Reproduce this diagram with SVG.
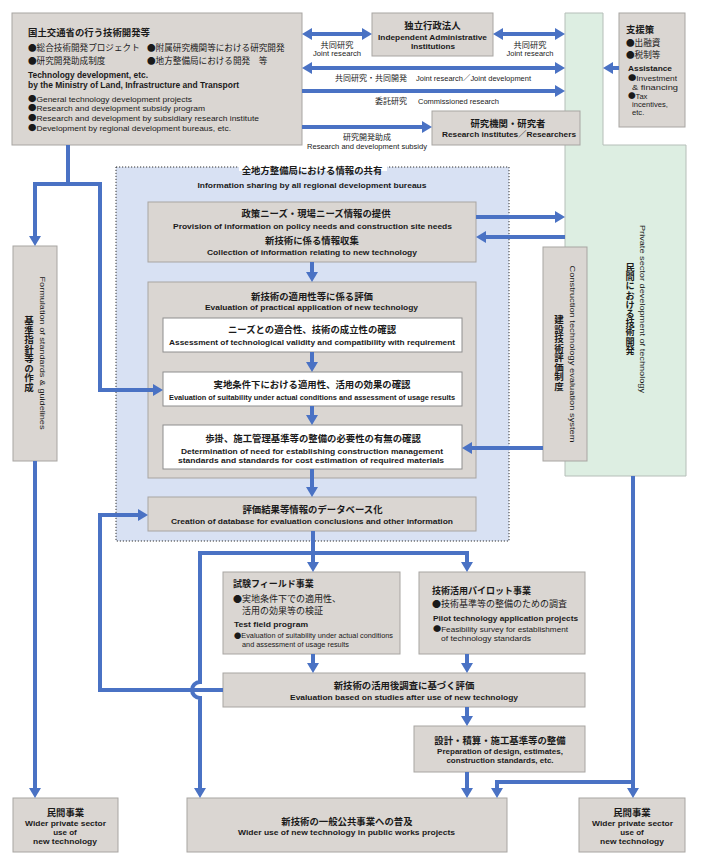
<svg xmlns="http://www.w3.org/2000/svg" width="701" height="868" viewBox="0 0 701 868">
<defs>
<marker id="ah" markerUnits="userSpaceOnUse" markerWidth="10" markerHeight="12" refX="0" refY="6" orient="auto-start-reverse" viewBox="0 0 10 12"><path d="M0,0L10,6L0,12z" fill="#4A72C4"/></marker>
<style>
.box{fill:#DAD6D2;stroke:#A8A5A2;stroke-width:1}
.wbox{fill:#fff;stroke:#8E8E8E;stroke-width:1}
.c{stroke:#4A72C4;stroke-width:4;fill:none}
.a{marker-end:url(#ah)}
.a2{marker-start:url(#ah);marker-end:url(#ah)}
text{fill:#1a1a1a}
.jt{font-family:"Noto Sans CJK JP",sans-serif;font-weight:bold;font-size:9.4px}
.jr{font-family:"Noto Sans CJK JP",sans-serif;font-size:8.6px}
.et{font-family:"Liberation Sans","Noto Sans CJK JP",sans-serif;font-weight:bold;font-size:8px}
.er{font-family:"Liberation Sans","Noto Sans CJK JP",sans-serif;font-size:7.6px}
.b{font-family:"Noto Sans CJK JP",sans-serif;font-weight:normal}
.m{text-anchor:middle}
.v{writing-mode:vertical-rl;text-orientation:upright}
</style>
</defs>
<rect width="701" height="868" fill="#fff"/>

<g id="sharing-region">
<rect x="116" y="167" width="393" height="374" fill="#D8E1F3" stroke="#333" stroke-width="1" stroke-dasharray="1.2,1.8"/>
<rect x="239" y="163" width="148" height="8" fill="#fff"/>
<text class="jt m" x="312" y="173.5">全地方整備局における情報の共有</text>
<text class="et m" x="312" y="187.5" textLength="229" lengthAdjust="spacingAndGlyphs">Information sharing by all regional development bureaus</text>
</g>

<g id="private-dev">
<path d="M565,13H603V145H686V476H565Z" fill="#DDEEE2" stroke="#B5BEB8" stroke-width="1"/>
<text class="jt m v" style="font-size:9.2px" x="630" y="309">民間における技術開発</text>
<text class="er m" style="font-size:8px" transform="translate(643,309) rotate(90)" dy="0.35em" textLength="168" lengthAdjust="spacingAndGlyphs">Private sector development of technology</text>
</g>

<g id="mlit">
<rect class="box" x="12" y="13" width="290" height="132"/>
<text class="jt" x="28" y="35.5">国土交通省の行う技術開発等</text>
<text class="jr" x="28" y="50.5">●総合技術開発プロジェクト</text>
<text class="jr" x="147" y="50.5">●附属研究機関等における研究開発</text>
<text class="jr" x="28" y="64">●研究開発助成制度</text>
<text class="jr" x="147" y="64">●地方整備局における開発　等</text>
<text class="et" style="font-size:8.3px" x="28" y="78" textLength="120" lengthAdjust="spacingAndGlyphs">Technology development, etc.</text>
<text class="et" style="font-size:8.3px" x="28" y="88" textLength="211" lengthAdjust="spacingAndGlyphs">by the Ministry of Land, Infrastructure and Transport</text>
<text class="er" style="font-size:8px" x="28" y="101.5" textLength="164" lengthAdjust="spacingAndGlyphs"><tspan class="b">●</tspan>General technology development projects</text>
<text class="er" style="font-size:8px" x="28" y="111" textLength="177" lengthAdjust="spacingAndGlyphs"><tspan class="b">●</tspan>Research and development subsidy program</text>
<text class="er" style="font-size:8px" x="28" y="121" textLength="231" lengthAdjust="spacingAndGlyphs"><tspan class="b">●</tspan>Research and development by subsidiary research institute</text>
<text class="er" style="font-size:8px" x="28" y="131" textLength="203" lengthAdjust="spacingAndGlyphs"><tspan class="b">●</tspan>Development by regional development bureaus, etc.</text>
</g>

<g id="iai">
<rect class="box" x="372" y="13" width="121" height="43"/>
<text class="jt m" x="432.5" y="28.5">独立行政法人</text>
<text class="et m" x="432.5" y="40" textLength="109" lengthAdjust="spacingAndGlyphs">Independent Administrative</text>
<text class="et m" x="433" y="49" textLength="44" lengthAdjust="spacingAndGlyphs">Institutions</text>
</g>

<g id="research-inst">
<rect class="box" x="432" y="111" width="148" height="34"/>
<text class="jt m" x="508" y="126.5">研究機関・研究者</text>
<text class="et m" x="509" y="137" textLength="134" lengthAdjust="spacingAndGlyphs">Research institutes／Researchers</text>
</g>

<g id="assistance">
<rect class="box" x="619" y="13" width="66" height="114"/>
<text class="jt" x="626" y="33">支援策</text>
<text class="jr" x="626" y="46">●出融資</text>
<text class="jr" x="626" y="58">●税制等</text>
<text class="et" x="628" y="71" textLength="44" lengthAdjust="spacingAndGlyphs">Assistance</text>
<text class="er" x="628" y="81" textLength="49" lengthAdjust="spacingAndGlyphs"><tspan class="b">●</tspan>Investment</text>
<text class="er" x="632" y="90" textLength="46" lengthAdjust="spacingAndGlyphs">&amp; financing</text>
<text class="er" x="628" y="99"><tspan class="b">●</tspan>Tax</text>
<text class="er" x="632" y="107">incentives,</text>
<text class="er" x="632" y="115">etc.</text>
</g>

<g id="standards">
<rect class="box" x="13" y="246" width="44" height="215"/>
<text class="jt m v" style="font-size:9.5px" x="29" y="354">基準指針等の作成</text>
<text class="er m" style="font-size:8px" transform="translate(43,353) rotate(90)" dy="0.35em" textLength="153" lengthAdjust="spacingAndGlyphs">Formulation of standards &amp; guidelines</text>
</g>

<g id="const-eval">
<rect class="box" x="543" y="247" width="44" height="214"/>
<text class="jt m v" style="font-size:9.5px" x="559" y="353">建設技術評価制度</text>
<text class="er m" style="font-size:8px" transform="translate(573,354) rotate(90)" dy="0.35em" textLength="177" lengthAdjust="spacingAndGlyphs">Construction technology evaluation system</text>
</g>

<g id="info">
<rect class="box" x="148" y="202" width="328" height="60"/>
<text class="jt m" x="316" y="216.5">政策ニーズ・現場ニーズ情報の提供</text>
<text class="et m" x="312.5" y="228.5" textLength="279" lengthAdjust="spacingAndGlyphs">Provision of information on policy needs and construction site needs</text>
<text class="jt m" x="312" y="243.5">新技術に係る情報収集</text>
<text class="et m" x="312" y="254.5" textLength="210" lengthAdjust="spacingAndGlyphs">Collection of information relating to new technology</text>
</g>

<g id="evaluation">
<rect class="box" x="148" y="282" width="328" height="196"/>
<text class="jt m" x="312" y="299.5">新技術の適用性等に係る評価</text>
<text class="et m" x="311.5" y="309.5" textLength="213" lengthAdjust="spacingAndGlyphs">Evaluation of practical application of new technology</text>
</g>

<g id="check-a">
<rect class="wbox" x="163" y="318" width="299" height="34"/>
<text class="jt m" x="312" y="332.5">ニーズとの適合性、技術の成立性の確認</text>
<text class="et m" x="312" y="344.5" textLength="286" lengthAdjust="spacingAndGlyphs">Assessment of technological validity and compatibility with requirement</text>
</g>

<g id="check-b">
<rect class="wbox" x="163" y="372" width="299" height="34"/>
<text class="jt m" x="312" y="387.5">実地条件下における適用性、活用の効果の確認</text>
<text class="et m" style="font-size:7.4px" x="312" y="399.5" textLength="286" lengthAdjust="spacingAndGlyphs">Evaluation of suitability under actual conditions and assessment of usage results</text>
</g>

<g id="check-c">
<rect class="wbox" x="163" y="425" width="299" height="44"/>
<text class="jt m" x="313" y="441.5">歩掛、施工管理基準等の整備の必要性の有無の確認</text>
<text class="et m" x="312" y="453.5" textLength="262" lengthAdjust="spacingAndGlyphs">Determination of need for establishing construction management</text>
<text class="et m" x="311" y="462.5" textLength="266" lengthAdjust="spacingAndGlyphs">standards and standards for cost estimation of required materials</text>
</g>

<g id="database">
<rect class="box" x="148" y="497" width="328" height="34"/>
<text class="jt m" x="312.5" y="512.5">評価結果等情報のデータベース化</text>
<text class="et m" x="312" y="523.5" textLength="282" lengthAdjust="spacingAndGlyphs">Creation of database for evaluation conclusions and other information</text>
</g>

<g id="test-field">
<rect class="box" x="223" y="572" width="177" height="82"/>
<text class="jt" style="font-size:9px" x="233" y="586.5">試験フィールド事業</text>
<text class="jr" style="font-size:9px" x="233" y="601.5">●実地条件下での適用性、</text>
<text class="jr" style="font-size:9px" x="242" y="613.5">活用の効果等の検証</text>
<text class="et" x="234" y="626.5" textLength="74" lengthAdjust="spacingAndGlyphs">Test field program</text>
<text class="er" style="font-size:7.2px" x="234" y="637.5" textLength="159" lengthAdjust="spacingAndGlyphs"><tspan class="b">●</tspan>Evaluation of suitability under actual conditions</text>
<text class="er" style="font-size:7.2px" x="242" y="646.5" textLength="107" lengthAdjust="spacingAndGlyphs">and assessment of usage results</text>
</g>

<g id="pilot">
<rect class="box" x="419" y="572" width="166" height="82"/>
<text class="jt" style="font-size:9px" x="432" y="593.5">技術活用パイロット事業</text>
<text class="jr" style="font-size:9px" x="432" y="606.5">●技術基準等の整備のための調査</text>
<text class="et" x="433" y="620.5" textLength="145" lengthAdjust="spacingAndGlyphs">Pilot technology application projects</text>
<text class="er" x="433" y="631.5" textLength="135" lengthAdjust="spacingAndGlyphs"><tspan class="b">●</tspan>Feasibility survey for establishment</text>
<text class="er" x="441" y="640.5" textLength="90" lengthAdjust="spacingAndGlyphs">of technology standards</text>
</g>

<g id="post-eval">
<rect class="box" x="223" y="673" width="362" height="34"/>
<text class="jt m" x="404" y="688.5">新技術の活用後調査に基づく評価</text>
<text class="et m" x="404" y="699.5" textLength="228" lengthAdjust="spacingAndGlyphs">Evaluation based on studies after use of new technology</text>
</g>

<g id="design">
<rect class="box" x="414" y="726" width="171" height="46"/>
<text class="jt m" x="500" y="743.5">設計・積算・施工基準等の整備</text>
<text class="et m" x="500" y="753.5">Preparation of design, estimates,</text>
<text class="et m" x="500" y="762.5">construction standards, etc.</text>
</g>

<g id="private-left">
<rect class="box" x="13" y="798" width="105" height="54"/>
<text class="jt m" x="65.5" y="815.5">民間事業</text>
<text class="et m" x="65.5" y="825.5" textLength="81" lengthAdjust="spacingAndGlyphs">Wider private sector</text>
<text class="et m" x="65" y="834.5">use of</text>
<text class="et m" x="65" y="843.5" textLength="64" lengthAdjust="spacingAndGlyphs">new technology</text>
</g>

<g id="public-works">
<rect class="box" x="187" y="798" width="320" height="54"/>
<text class="jt m" x="347" y="824.5">新技術の一般公共事業への普及</text>
<text class="et m" x="346.5" y="834.5" textLength="217" lengthAdjust="spacingAndGlyphs">Wider use of new technology in public works projects</text>
</g>

<g id="private-right">
<rect class="box" x="579" y="798" width="106" height="54"/>
<text class="jt m" x="632" y="815.5">民間事業</text>
<text class="et m" x="632.5" y="825.5" textLength="81" lengthAdjust="spacingAndGlyphs">Wider private sector</text>
<text class="et m" x="632" y="834.5">use of</text>
<text class="et m" x="632" y="843.5" textLength="64" lengthAdjust="spacingAndGlyphs">new technology</text>
</g>

<g id="connectors">
<path class="c a2" d="M312,34H362"/>
<path class="c a2" d="M503,34H555"/>
<path class="c a2" d="M312,68H555"/>
<path class="c a" d="M302,91H555"/>
<path class="c a" d="M302,127H422"/>
<path class="c a" d="M619,68H613"/>
<path class="c" d="M68,145V184"/>
<path class="c a2" d="M35,236V184H100V390H153"/>
<path class="c a" d="M476,217H555"/>
<path class="c a" d="M565,237H486"/>
<path class="c a" d="M312,262V272"/>
<path class="c a" d="M312,352V362"/>
<path class="c a" d="M312,406V415"/>
<path class="c a" d="M312,469V487"/>
<path class="c a" d="M543,448H472"/>
<path class="c a" d="M35,461V788"/>
<path class="c a" d="M313,531V562"/>
<path class="c a2" d="M200,788V698A8,8 0 0 1 200,682V553H467V562"/>
<path class="c a" d="M223,690H100V515H138"/>
<path class="c a" d="M313,654V663"/>
<path class="c a" d="M467,654V663"/>
<path class="c a" d="M467,707V716"/>
<path class="c a" d="M467,772V788"/>
<path class="c a" d="M633,476V788"/>
<path class="c a" d="M633,782H497V788"/>
</g>
<g id="labels">
<text class="jr m" style="font-size:8.2px" x="337" y="47.5">共同研究</text>
<text class="er m" x="337" y="56" textLength="48" lengthAdjust="spacingAndGlyphs">Joint research</text>
<text class="jr m" style="font-size:8.2px" x="530" y="47.5">共同研究</text>
<text class="er m" x="530" y="56" textLength="47" lengthAdjust="spacingAndGlyphs">Joint research</text>
<text class="jr" style="font-size:8px" x="335" y="81">共同研究・共同開発</text>
<text class="er" x="416" y="81" textLength="115" lengthAdjust="spacingAndGlyphs">Joint research／Joint development</text>
<text class="jr" style="font-size:8px" x="375" y="104">委託研究</text>
<text class="er" x="418" y="104" textLength="81" lengthAdjust="spacingAndGlyphs">Commissioned research</text>
<text class="jr m" style="font-size:8px" x="367" y="140">研究開発助成</text>
<text class="er m" x="367" y="149" textLength="120" lengthAdjust="spacingAndGlyphs">Research and development subsidy</text>
</g>
</svg>
